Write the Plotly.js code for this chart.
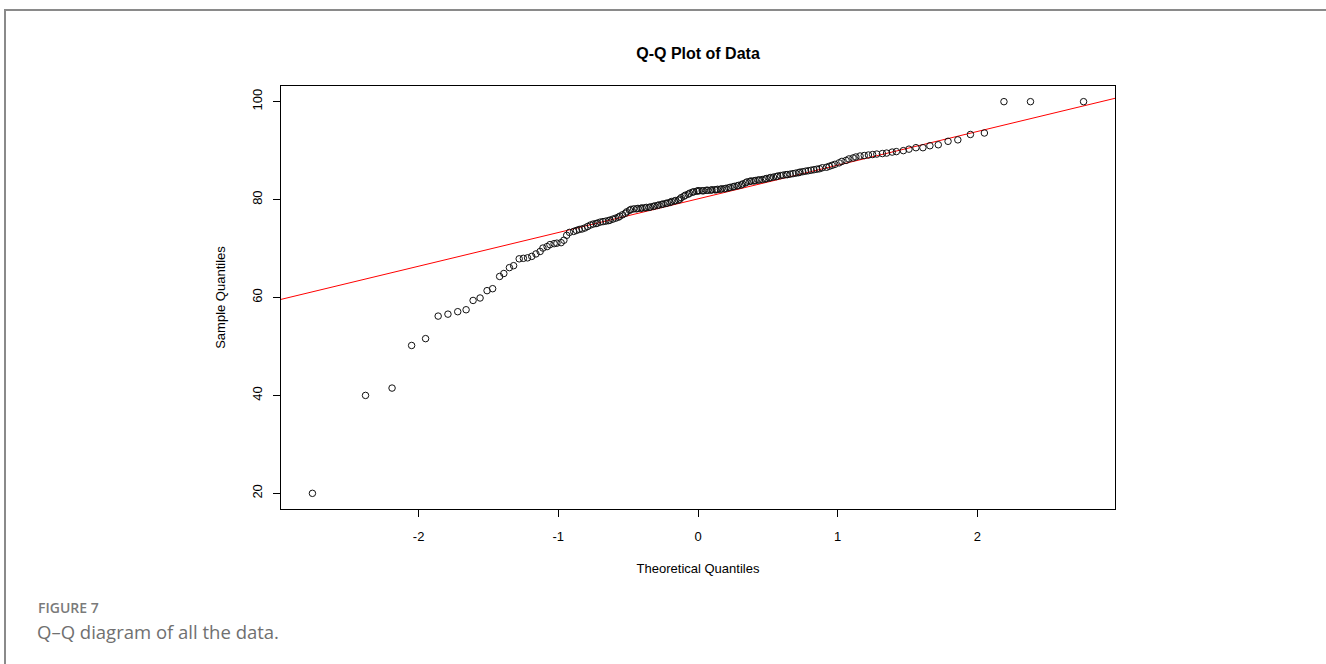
<!DOCTYPE html>
<html>
<head>
<meta charset="utf-8">
<script src="https://cdn.plot.ly/plotly-3.0.1.min.js"></script>
<style>
  html, body { margin: 0; padding: 0; background: #fff; }
  #chart { width: 1326px; height: 664px; position: relative; }
  #frame { position: absolute; left: 4px; top: 9px; width: 1322px; height: 655px;
           border-left: 2px solid #8a8a8a; border-top: 2px solid #8a8a8a; pointer-events: none; }
</style>
</head>
<body>
<div id="chart"></div>
<div id="frame"></div>
<script>
// Theoretical quantiles (x)
const theoreticalQuantiles = [
  -2.76,-2.38,-2.19,-2.05,-1.95,-1.86,-1.79,-1.72,-1.66,-1.61,
  -1.56,-1.51,-1.47,-1.42,-1.39,-1.35,-1.32,-1.28,-1.25,-1.22,
  -1.19,-1.16,-1.13,-1.11,-1.08,-1.06,-1.03,-1.01,-0.98,-0.96,
  -0.94,-0.92,-0.89,-0.87,-0.85,-0.83,-0.81,-0.79,-0.77,-0.75,
  -0.73,-0.72,-0.70,-0.68,-0.66,-0.64,-0.63,-0.61,-0.59,-0.57,
  -0.56,-0.54,-0.52,-0.51,-0.49,-0.48,-0.46,-0.44,-0.43,-0.41,
  -0.40,-0.38,-0.37,-0.35,-0.34,-0.32,-0.31,-0.29,-0.28,-0.26,
  -0.25,-0.23,-0.22,-0.20,-0.19,-0.17,-0.16,-0.14,-0.13,-0.12,
  -0.10,-0.09,-0.07,-0.06,-0.04,-0.03,-0.01,0.00,0.01,0.03,
  0.04,0.06,0.07,0.09,0.10,0.12,0.13,0.14,0.16,0.17,
  0.19,0.20,0.22,0.23,0.25,0.26,0.28,0.29,0.31,0.32,
  0.34,0.35,0.37,0.38,0.40,0.41,0.43,0.44,0.46,0.48,
  0.49,0.51,0.52,0.54,0.56,0.57,0.59,0.61,0.63,0.64,
  0.66,0.68,0.70,0.72,0.73,0.75,0.77,0.79,0.81,0.83,
  0.85,0.87,0.89,0.92,0.94,0.96,0.98,1.01,1.03,1.06,
  1.08,1.11,1.13,1.16,1.19,1.22,1.25,1.28,1.32,1.35,
  1.39,1.42,1.47,1.51,1.56,1.61,1.66,1.72,1.79,1.86,
  1.95,2.05,2.19,2.38,2.76
];
// Sample quantiles (y)
const sampleQuantiles = [
  20.0,40.0,41.5,50.2,51.6,56.2,56.6,57.1,57.5,59.4,
  59.9,61.4,61.8,64.3,64.9,66.1,66.5,67.9,68.0,68.1,
  68.4,68.9,69.4,70.1,70.4,70.8,71.0,71.1,71.2,71.7,
  72.7,73.3,73.5,73.7,73.9,74.0,74.2,74.5,74.8,75.0,
  75.1,75.2,75.4,75.5,75.6,75.7,75.8,76.0,76.2,76.4,
  76.6,76.9,77.2,77.5,77.8,78.0,78.1,78.1,78.2,78.2,
  78.3,78.3,78.4,78.4,78.5,78.6,78.7,78.8,78.9,79.0,
  79.1,79.2,79.3,79.4,79.6,79.7,79.8,79.9,80.1,80.4,
  80.7,80.9,81.1,81.3,81.5,81.6,81.7,81.8,81.8,81.8,
  81.8,81.9,81.9,81.9,82.0,82.0,82.0,82.1,82.1,82.2,
  82.2,82.3,82.4,82.5,82.6,82.7,82.8,82.9,83.0,83.2,
  83.4,83.6,83.7,83.8,83.8,83.9,84.0,84.0,84.1,84.2,
  84.3,84.4,84.5,84.6,84.7,84.8,84.9,85.0,85.1,85.1,
  85.2,85.3,85.4,85.5,85.6,85.7,85.8,85.9,86.0,86.1,
  86.2,86.3,86.5,86.6,86.8,87.0,87.2,87.5,87.8,88.0,
  88.3,88.5,88.7,88.9,89.0,89.1,89.2,89.3,89.4,89.5,
  89.7,89.8,90.0,90.3,90.6,90.6,91.0,91.2,91.9,92.2,
  93.3,93.6,100.0,100.0,100.0
];
// Reference line (qqline)
const lineIntercept = 80.15;
const lineSlope = 6.88;
const lineXExtent = [-3.5, 3.5];

const xTicks = [-2, -1, 0, 1, 2];
const yTicks = [20, 40, 60, 80, 100];

const chartTitle = 'Q-Q Plot of Data';
const xTitle = 'Theoretical Quantiles';
const yTitle = 'Sample Quantiles';
const figLabel = 'FIGURE 7';
const figCaption = 'Q\u2013Q diagram of all the data.';

const points = {
  x: theoreticalQuantiles, y: sampleQuantiles,
  type: 'scatter', mode: 'markers',
  marker: { symbol: 'circle-open', size: 6.5, color: '#111', line: { width: 1, color: '#111' } },
  hoverinfo: 'x+y', showlegend: false
};
const refLine = {
  x: lineXExtent,
  y: lineXExtent.map(v => lineIntercept + lineSlope * v),
  type: 'scatter', mode: 'lines',
  line: { color: '#ff0000', width: 1 },
  hoverinfo: 'skip', showlegend: false
};

const axisFont = { family: 'Liberation Sans, Arial, sans-serif', size: 13, color: '#000' };

const layout = {
  width: 1326, height: 664,
  margin: { l: 281, r: 211, t: 86, b: 155, pad: 0 },
  paper_bgcolor: '#fff', plot_bgcolor: '#fff',
  title: { text: '<b>' + chartTitle + '</b>', x: 0.5, xref: 'paper', xanchor: 'center',
           y: 1 - 53/664, yanchor: 'middle',
           font: { family: 'Liberation Sans, Arial, sans-serif', size: 16, color: '#000' } },
  xaxis: {
    range: [-2.985, 2.985], tickvals: xTicks, ticktext: xTicks.map(String),
    ticks: 'outside', ticklen: 7, tickwidth: 1, tickcolor: '#000', ticklabelstandoff: 8,
    showline: true, mirror: true, linecolor: '#000', linewidth: 1,
    showgrid: false, zeroline: false, tickfont: axisFont,
    title: { text: xTitle, font: axisFont, standoff: 21 }
  },
  yaxis: {
    range: [16.8, 103.2], tickvals: yTicks, ticktext: yTicks.map(String),
    ticks: 'outside', ticklen: 7, tickwidth: 1, tickcolor: '#000', tickangle: -90, ticklabelstandoff: 6,
    showline: true, mirror: true, linecolor: '#000', linewidth: 1,
    showgrid: false, zeroline: false, tickfont: axisFont,
    title: { text: yTitle, font: axisFont, standoff: 21 }
  },
  annotations: [
    { text: figLabel, xref: 'paper', yref: 'paper', x: (36 - 281) / 834, y: (509 - 607) / 423,
      xanchor: 'left', yanchor: 'middle', showarrow: false,
      font: { family: 'Open Sans, sans-serif', size: 14, weight: 600, color: '#7a7a7a' } },
    { text: figCaption, xref: 'paper', yref: 'paper', x: (35 - 281) / 834, y: (509 - 632) / 423,
      xanchor: 'left', yanchor: 'middle', showarrow: false,
      font: { family: 'Open Sans, sans-serif', size: 18.5, color: '#707070' } }
  ]
};

Plotly.newPlot('chart', [refLine, points], layout, { displayModeBar: false, staticPlot: true });
</script>
</body>
</html>
